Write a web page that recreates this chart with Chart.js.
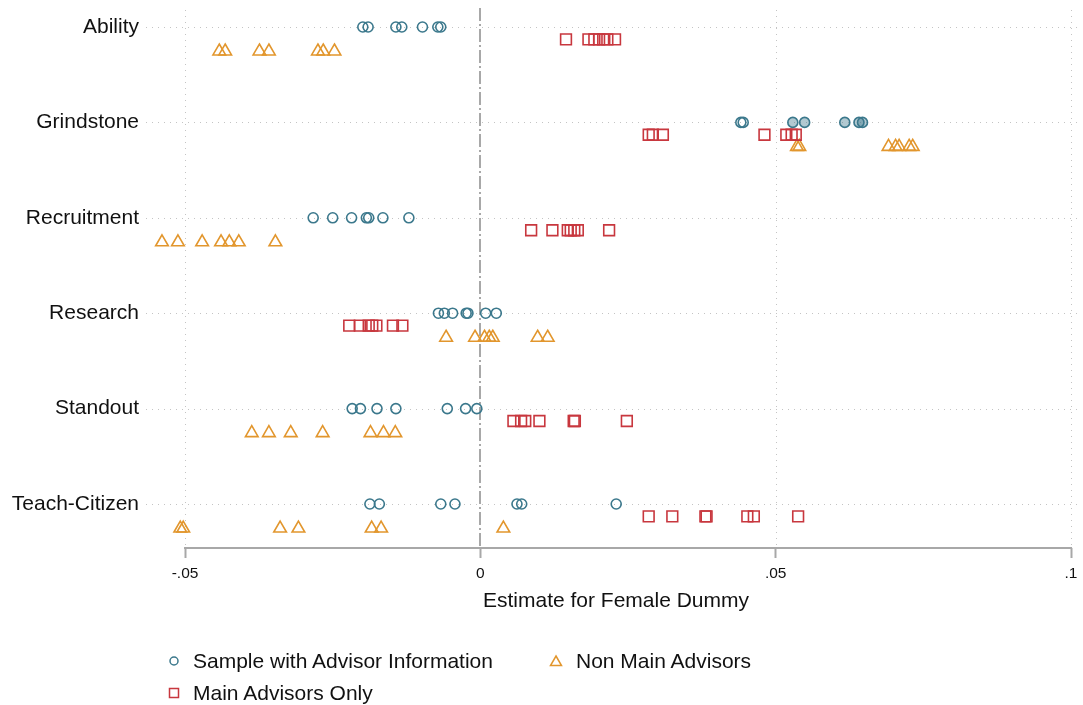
<!DOCTYPE html>
<html>
<head>
<meta charset="utf-8">
<script src="https://cdn.jsdelivr.net/npm/chart.js@4.4.1/dist/chart.umd.min.js"></script>
<style>
  html, body { margin:0; padding:0; background:#fff; }
  #wrap { position:relative; width:1083px; height:705px; }
  canvas { position:absolute; left:0; top:0; }
  .leg { position:absolute; height:26px; line-height:26px; font-family:"Liberation Sans", Arial, sans-serif; font-size:21px; color:#111; white-space:nowrap; }
  .leg svg { position:absolute; top:6px; }
  .leg span { position:absolute; top:0; }
</style>
</head>
<body>
<div id="wrap">
  <canvas id="c" width="1083" height="705"></canvas>
  <div class="leg" style="left:0; top:648px;">
    <svg style="left:167px" width="14" height="14"><circle cx="7" cy="7" r="4" fill="none" stroke="rgb(59,120,140)" stroke-width="1.5"/></svg>
    <span style="left:193px">Sample with Advisor Information</span>
    <svg style="left:549px" width="14" height="14"><polygon points="7,2 12.5,11.5 1.5,11.5" fill="none" stroke="rgb(226,150,45)" stroke-width="1.5"/></svg>
    <span style="left:576px">Non Main Advisors</span>
  </div>
  <div class="leg" style="left:0; top:680px;">
    <svg style="left:167px" width="14" height="14"><rect x="2.5" y="2.5" width="9" height="9" fill="none" stroke="rgb(200,55,62)" stroke-width="1.5"/></svg>
    <span style="left:193px">Main Advisors Only</span>
  </div>
</div>
<script>
// ---- data ----
const categories = ["Ability", "Grindstone", "Recruitment", "Research", "Standout", "Teach-Citizen"];
const xTickValues = [-0.05, 0, 0.05, 0.1];
const xTickLabels = ["-.05", "0", ".05", ".1"];
const xTitle = "Estimate for Female Dummy";
const seriesNames = ["Sample with Advisor Information", "Main Advisors Only", "Non Main Advisors"];

// Sample with Advisor Information (circles), per category
const sampleAdvisor = [
  [-0.0199, -0.0190, -0.0143, -0.0133, -0.0098, -0.0072, -0.0067],
  [0.0441, 0.0445, 0.0529, 0.0549, 0.0617, 0.0641, 0.0647],
  [-0.0283, -0.0250, -0.0218, -0.0193, -0.0189, -0.0165, -0.0121],
  [-0.0071, -0.0061, -0.0047, -0.0024, -0.0021, 0.0009, 0.0027],
  [-0.0217, -0.0203, -0.0175, -0.0143, -0.0056, -0.0025, -0.0006],
  [-0.0187, -0.0171, -0.0067, -0.0043, 0.0062, 0.0070, 0.0230]
];
// Main Advisors Only (squares)
const mainAdvisors = [
  [0.0145, 0.0183, 0.0193, 0.0201, 0.0208, 0.0215, 0.0228],
  [0.0285, 0.0292, 0.0309, 0.0481, 0.0518, 0.0527, 0.0534],
  [0.0086, 0.0122, 0.0148, 0.0153, 0.0159, 0.0165, 0.0218],
  [-0.0222, -0.0204, -0.0189, -0.0183, -0.0176, -0.0148, -0.0132],
  [0.0056, 0.0069, 0.0076, 0.0100, 0.0158, 0.0160, 0.0248],
  [0.0285, 0.0325, 0.0381, 0.0383, 0.0452, 0.0463, 0.0538]
];
// Non Main Advisors (triangles)
const nonMainAdvisors = [
  [-0.0442, -0.0432, -0.0374, -0.0358, -0.0275, -0.0266, -0.0247],
  [0.0536, 0.0540, 0.0691, 0.0703, 0.0709, 0.0726, 0.0732],
  [-0.0539, -0.0512, -0.0471, -0.0439, -0.0425, -0.0409, -0.0347],
  [-0.0058, -0.0009, 0.0007, 0.0015, 0.0021, 0.0097, 0.0114],
  [-0.0387, -0.0358, -0.0321, -0.0267, -0.0186, -0.0164, -0.0144],
  [-0.0508, -0.0503, -0.0339, -0.0308, -0.0184, -0.0168, 0.0039]
];

// ---- styles ----
const TEAL = "rgb(59,120,140)", RED = "rgb(200,55,62)", ORANGE = "rgb(226,150,45)";
const FONT = "'Liberation Sans', Arial, sans-serif";

function toPoints(arr, offset) {
  const pts = [];
  arr.forEach((vals, i) => vals.forEach(v => pts.push({ x: v, y: i + offset })));
  return pts;
}

const gridPlugin = {
  id: "stataGrid",
  beforeDatasetsDraw(chart) {
    const { ctx, chartArea: a, scales: { x, y } } = chart;
    ctx.save();
    ctx.strokeStyle = "#c4c4c4";
    ctx.lineWidth = 1;
    ctx.setLineDash([1, 5]);
    categories.forEach((c, i) => {
      const py = Math.round(y.getPixelForValue(i)) + 0.5;
      ctx.beginPath(); ctx.moveTo(a.left - 6, py); ctx.lineTo(a.right, py); ctx.stroke();
    });
    xTickValues.forEach(v => {
      if (v === 0) return;
      const px = Math.round(x.getPixelForValue(v)) + 0.5;
      ctx.beginPath(); ctx.moveTo(px, a.top + 2); ctx.lineTo(px, a.bottom); ctx.stroke();
    });
    // zero reference line
    const zx = Math.round(x.getPixelForValue(0));
    ctx.strokeStyle = "#a8a8a8";
    ctx.lineWidth = 2;
    ctx.setLineDash([13, 3, 2, 3]);
    ctx.beginPath(); ctx.moveTo(zx, a.top); ctx.lineTo(zx, a.bottom); ctx.stroke();
    // axis line between outer ticks
    ctx.setLineDash([]);
    ctx.strokeStyle = "#a8a8a8";
    ctx.lineWidth = 2;
    const by = a.bottom;
    ctx.beginPath();
    ctx.moveTo(x.getPixelForValue(xTickValues[0]) - 1, by);
    ctx.lineTo(x.getPixelForValue(xTickValues[xTickValues.length - 1]) + 1, by);
    ctx.stroke();
    ctx.restore();
  }
};

new Chart(document.getElementById("c"), {
  type: "scatter",
  data: {
    datasets: [
      {
        label: seriesNames[0],
        data: toPoints(sampleAdvisor, 0),
        pointStyle: "circle",
        pointRadius: 5,
        borderWidth: 1.6,
        borderColor: TEAL,
        backgroundColor: (ctx) => (ctx.raw && ctx.raw.y === 1 && ctx.raw.x > 0.05) ? "rgba(59,120,140,0.4)" : "rgba(0,0,0,0)"
      },
      {
        label: seriesNames[1],
        data: toPoints(mainAdvisors, 0.13),
        pointStyle: "rect",
        pointRadius: 7.6,
        borderWidth: 1.6,
        borderColor: RED,
        backgroundColor: "rgba(0,0,0,0)"
      },
      {
        label: seriesNames[2],
        data: toPoints(nonMainAdvisors, 0.255),
        pointStyle: "triangle",
        pointRadius: 7.3,
        borderWidth: 1.6,
        borderColor: ORANGE,
        backgroundColor: "rgba(0,0,0,0)"
      }
    ]
  },
  options: {
    responsive: false,
    animation: false,
    layout: { autoPadding: false, padding: { top: 8, right: 3, bottom: 87, left: 0 } },
    plugins: { legend: { display: false }, tooltip: { enabled: false } },
    scales: {
      x: {
        type: "linear",
        min: -0.05559,
        max: 0.10152,
        afterBuildTicks: (s) => { s.ticks = xTickValues.map(v => ({ value: v })); },
        afterFit: (s) => { s.height = 70; s.paddingLeft = 0; s.paddingRight = 0; },
        ticks: {
          callback: (v) => { const i = xTickValues.indexOf(v); return i >= 0 ? xTickLabels[i] : ""; },
          font: { family: FONT, size: 15.5 },
          color: "#111",
          padding: 6,
          maxRotation: 0
        },
        grid: { drawOnChartArea: false, drawTicks: true, tickLength: 10, tickColor: "#a8a8a8", tickWidth: 2 },
        border: { display: false },
        title: { display: true, text: xTitle, font: { family: FONT, size: 21 }, color: "#111", padding: { top: 0, bottom: 4 } }
      },
      y: {
        type: "linear",
        reverse: true,
        min: -0.199,
        max: 5.461,
        afterBuildTicks: (s) => { s.ticks = categories.map((c, i) => ({ value: i })); },
        afterFit: (s) => { s.width = 152; s.paddingTop = 0; s.paddingBottom = 0; },
        ticks: {
          callback: (v) => categories[v] !== undefined ? categories[v] : "",
          font: { family: FONT, size: 21 },
          color: "#111",
          padding: 13
        },
        grid: { display: false, drawTicks: false },
        border: { display: false }
      }
    }
  },
  plugins: [gridPlugin]
});
</script>
</body>
</html>
